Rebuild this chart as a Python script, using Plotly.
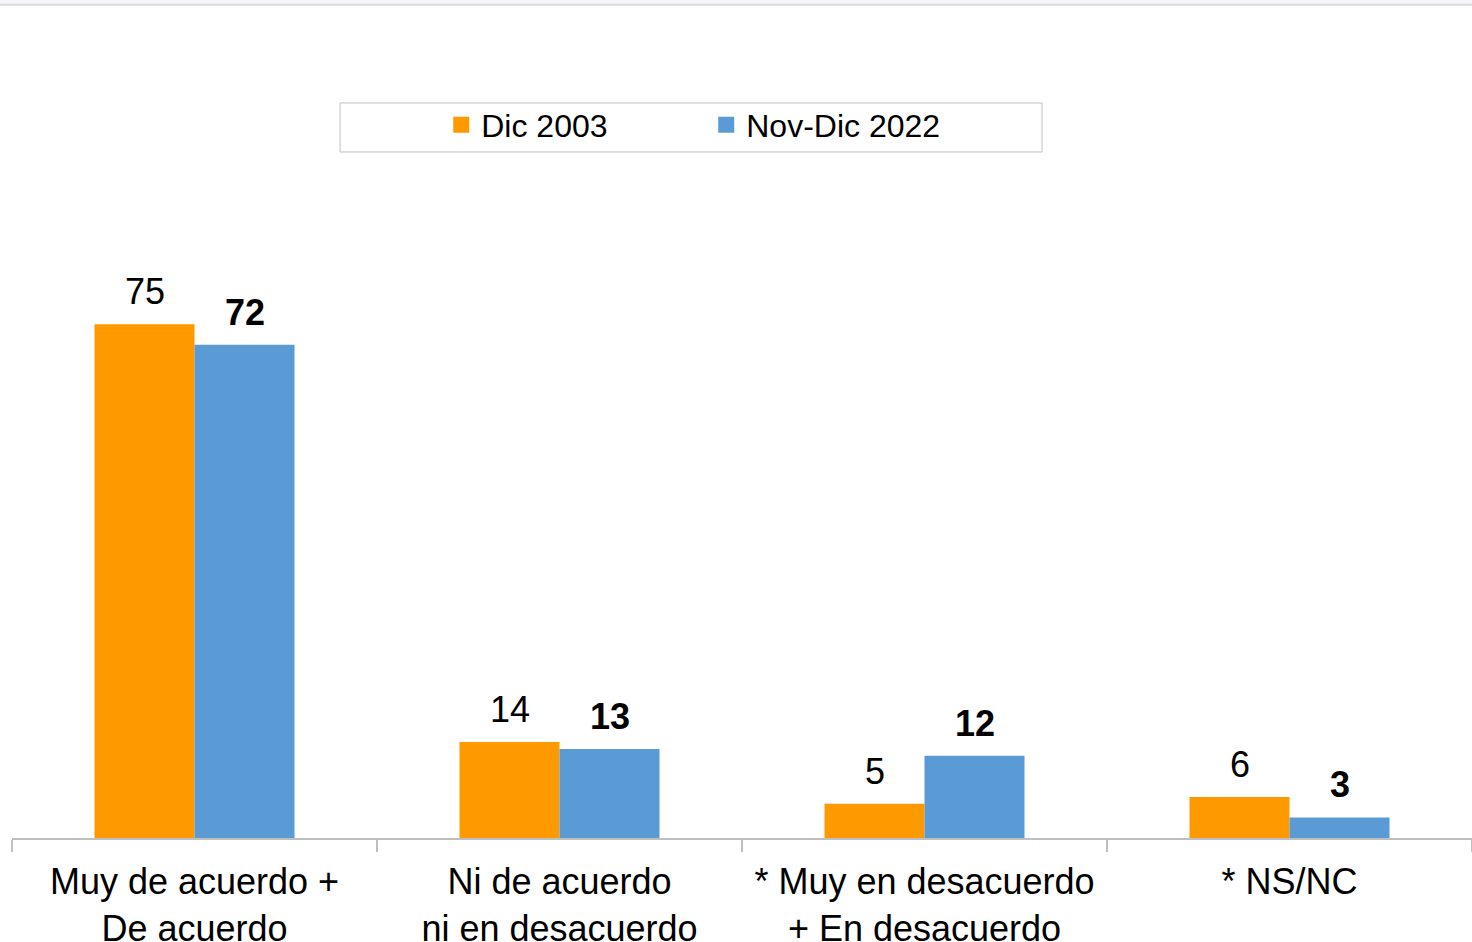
import plotly.graph_objects as go

# categories and values
categories = ["Muy de acuerdo +<br>De acuerdo", "Ni de acuerdo<br>ni en desacuerdo",
              "* Muy en desacuerdo<br>+ En desacuerdo", "* NS/NC"]
dic_2003 = [75, 14, 5, 6]
nov_dic_2022 = [72, 13, 12, 3]
series_names = ["Dic 2003", "Nov-Dic 2022"]

ORANGE = "#FF9900"
BLUE = "#5B9BD5"
FONT = "Liberation Sans, Arial, sans-serif"

fig = go.Figure()
fig.add_trace(go.Bar(x=categories, y=dic_2003, name=series_names[0],
                     marker=dict(color=ORANGE, line=dict(width=0)), showlegend=False))
fig.add_trace(go.Bar(x=categories, y=nov_dic_2022, name=series_names[1],
                     marker=dict(color=BLUE, line=dict(width=0)), showlegend=False))

# legend entries with bigger square symbols
for name, col in zip(series_names, [ORANGE, BLUE]):
    fig.add_trace(go.Scatter(x=[None], y=[None], mode="markers", name=name,
                             marker=dict(symbol="square", size=17, color=col)))

# value labels above bars
for cat, a, b in zip(categories, dic_2003, nov_dic_2022):
    fig.add_annotation(x=cat, y=a, text=str(a), showarrow=False, xshift=-50,
                       yanchor="bottom", yshift=10, font=dict(size=36, color="black"))
    fig.add_annotation(x=cat, y=b, text="<b>%d</b>" % b, showarrow=False, xshift=50,
                       yanchor="bottom", yshift=10, font=dict(size=36, color="black"))

# legend frame
fig.add_shape(type="rect", xref="paper", yref="paper",
              x0=0.2247, x1=0.7055, y0=1.0015, y1=1.073,
              line=dict(color="#BFBFBF", width=1), fillcolor="rgba(0,0,0,0)")
# thin band at top of page
fig.add_shape(type="rect", xref="paper", yref="paper",
              x0=-0.01, x1=1.0, y0=1.2175, y1=1.2240,
              line=dict(width=0), fillcolor="#F4F5F9")
fig.add_shape(type="line", xref="paper", yref="paper",
              x0=-0.01, x1=1.0, y0=1.2165, y1=1.2165,
              line=dict(color="#DADADF", width=2))

fig.update_layout(
    width=1472, height=942,
    margin=dict(l=12, r=0, t=153, b=104),
    paper_bgcolor="white", plot_bgcolor="white",
    font=dict(family=FONT, size=32, color="black"),
    barmode="group", bargap=0.452, bargroupgap=0,
    legend=dict(orientation="h", x=0.294, xanchor="left", y=1.041, yanchor="middle",
                entrywidth=220, entrywidthmode="pixels",
                font=dict(size=32), bgcolor="rgba(0,0,0,0)", borderwidth=0),
    xaxis=dict(showline=True, linecolor="#BFBFBF", linewidth=2,
               ticks="outside", tickson="boundaries", ticklen=12, tickcolor="#BFBFBF",
               tickwidth=2, tickfont=dict(size=36), ticklabelstandoff=11,
               automargin=False, showgrid=False),
    yaxis=dict(range=[0, 100], visible=False, showgrid=False, zeroline=False),
)

fig.write_html("out.html", config={"displayModeBar": False},
               post_script="document.body.style.margin='0';")
